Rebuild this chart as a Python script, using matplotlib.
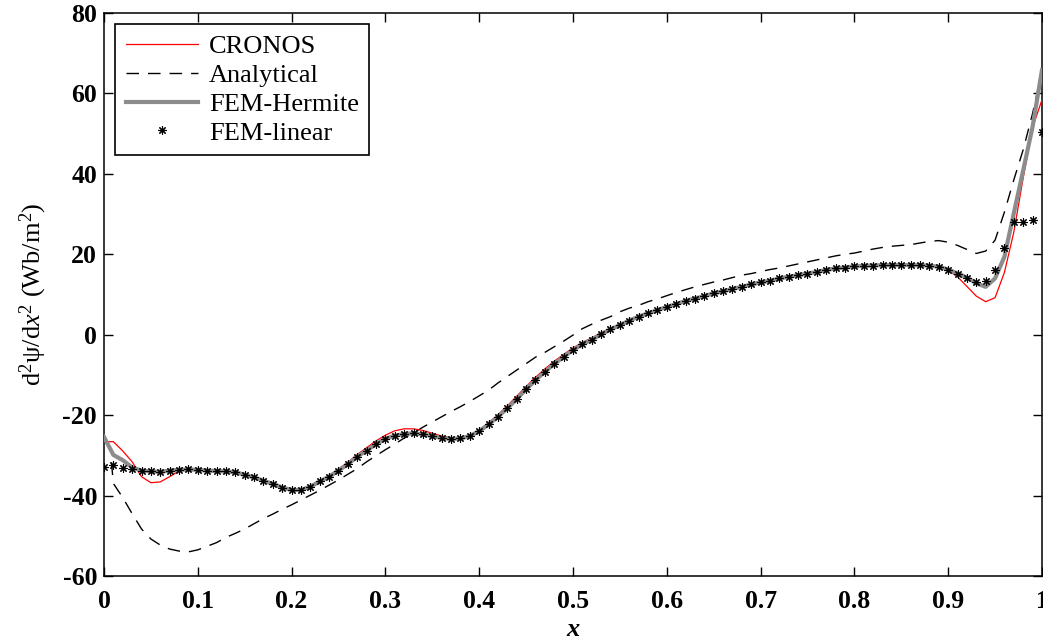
import numpy as np
import matplotlib.pyplot as plt

plt.rcParams['font.family'] = 'Liberation Serif'
plt.rcParams['mathtext.fontset'] = 'custom'
plt.rcParams['mathtext.rm'] = 'Liberation Serif'
plt.rcParams['mathtext.it'] = 'Liberation Serif:italic'
plt.rcParams['mathtext.bf'] = 'Liberation Serif:bold'
plt.rcParams['axes.unicode_minus'] = False

# FEM grid, step 0.01
x_fem = np.linspace(0, 1, 101)

fem_linear = [
    -32.9, -32.5, -33.1, -33.4, -33.8, -34.0, -34.1, -33.8, -33.6, -33.5,
    -33.6, -33.8, -33.9, -34.0, -34.2, -34.8, -35.5, -36.3, -37.1, -38.0,
    -38.5, -38.5, -37.8, -36.5, -35.3, -33.8, -32.2, -30.3, -28.8, -27.2,
    -25.9, -25.1, -24.7, -24.5, -24.8, -25.2, -25.7, -25.9, -25.8, -25.2,
    -24.0, -22.3, -20.4, -18.3, -16.0, -13.6, -11.3, -9.2, -7.3, -5.5,
    -3.8, -2.4, -1.2, 0.1, 1.3, 2.4, 3.5, 4.5, 5.3, 6.1,
    6.9, 7.6, 8.4, 9.0, 9.6, 10.3, 10.8, 11.4, 11.9, 12.5,
    13.0, 13.4, 14.0, 14.4, 14.8, 15.2, 15.6, 16.1, 16.5, 16.7,
    17.0, 17.15, 17.2, 17.3, 17.3, 17.3, 17.3, 17.3, 17.15, 16.9,
    16.2, 15.2, 14.2, 13.0, 13.3, 16.2, 21.5, 27.9, 28.1, 28.5,
    50.5,
]

fem_hermite = [
    -25.4, -29.9, -31.2, -33.0, -33.8, -34.0, -34.1, -33.8, -33.6, -33.5,
    -33.6, -33.8, -33.9, -34.0, -34.2, -34.8, -35.5, -36.3, -37.1, -38.0,
    -38.6, -38.6, -37.8, -36.5, -35.3, -33.8, -32.2, -30.3, -28.8, -27.2,
    -25.9, -25.1, -24.7, -24.5, -24.8, -25.2, -25.7, -25.9, -25.8, -25.2,
    -24.0, -22.3, -20.4, -18.3, -16.0, -13.6, -11.3, -9.2, -7.3, -5.5,
    -3.8, -2.4, -1.2, 0.1, 1.3, 2.4, 3.5, 4.5, 5.3, 6.1,
    6.9, 7.6, 8.4, 9.0, 9.6, 10.3, 10.8, 11.4, 11.9, 12.5,
    13.0, 13.4, 14.0, 14.4, 14.8, 15.2, 15.6, 16.1, 16.5, 16.7,
    17.0, 17.15, 17.2, 17.3, 17.3, 17.3, 17.3, 17.3, 17.15, 16.9,
    16.2, 15.2, 14.2, 12.8, 11.9, 14.0, 19.4, 30.2, 40.9, 51.7,
    65.8,
]

cronos = [
    -26.6, -26.6, -28.9, -31.6, -35.3, -36.8, -36.6, -35.3, -33.9, -33.4,
    -33.3, -33.6, -33.8, -34.0, -34.2, -34.8, -35.5, -36.3, -37.2, -38.3,
    -38.8, -38.8, -37.9, -36.4, -35.0, -33.4, -31.7, -29.8, -28.1, -26.4,
    -25.0, -23.9, -23.4, -23.4, -23.8, -24.5, -25.2, -25.6, -25.6, -25.0,
    -23.7, -21.9, -19.9, -17.7, -15.3, -12.9, -10.6, -8.5, -6.6, -4.9,
    -3.3, -1.9, -0.8, 0.5, 1.6, 2.6, 3.6, 4.6, 5.4, 6.2,
    6.9, 7.6, 8.4, 9.0, 9.6, 10.3, 10.8, 11.4, 11.9, 12.5,
    13.0, 13.4, 14.0, 14.4, 14.8, 15.2, 15.6, 16.1, 16.5, 16.7,
    17.0, 17.15, 17.2, 17.3, 17.3, 17.3, 17.3, 17.3, 17.15, 16.9,
    16.0, 14.4, 12.0, 9.6, 8.2, 9.2, 15.5, 25.5, 39.0, 51.5,
    58.4,
]

# analytical solution
x_an = [0.008] + [round(0.01 * k, 2) for k in range(1, 101)]
analytical = [
    -31.8,
    -37.0, -40.5, -44.5, -48.3, -50.8, -52.3, -53.3, -53.8, -54.0, -53.5,
    -52.6, -51.7, -50.4, -49.4, -48.3, -47.0, -45.7, -44.6, -43.4, -42.3,
    -41.1, -39.9, -38.7, -37.4, -36.1, -34.7, -33.3, -31.6, -30.1, -28.6,
    -27.2, -25.7, -24.4, -23.0, -21.7, -20.4, -19.1, -17.9, -16.6, -15.2,
    -13.8, -12.0, -10.4, -8.8, -7.2, -5.6, -4.4, -3.0, -1.6, -0.1,
    1.5, 2.6, 3.6, 4.5, 5.7, 6.6, 7.3, 8.2, 8.9, 9.7,
    10.5, 11.2, 11.9, 12.5, 13.1, 13.6, 14.2, 14.8, 15.2, 15.7,
    16.2, 16.6, 17.1, 17.6, 18.1, 18.6, 19.1, 19.6, 20.0, 20.3,
    20.8, 21.3, 21.7, 22.0, 22.2, 22.4, 22.8, 23.2, 23.4, 23.0,
    22.2, 21.2, 20.2, 20.8, 23.5, 30.5, 38.5, 46.0, 55.0, 65.5,
]

xticks = np.arange(0, 1.01, 0.1)
xtick_labels = ['0', '0.1', '0.2', '0.3', '0.4', '0.5', '0.6', '0.7', '0.8', '0.9', '1']
yticks = np.arange(-60, 81, 20)

fig = plt.figure(figsize=(10.43, 6.42), dpi=100)
ax = fig.add_axes([0.0997, 0.1028, 0.8993, 0.877])

ax.plot(x_fem, cronos, color='red', lw=0.9, label='CRONOS', zorder=3)
ax.plot(x_an, analytical, color='black', lw=1.0, dashes=(9, 6.5), label='Analytical', zorder=2)
ax.plot(x_fem, fem_hermite, color='#8c8c8c', lw=3.0, label='FEM-Hermite', zorder=4)
ax.plot(x_fem, fem_linear, ls='none', marker=(8, 2, 0), ms=6, mew=0.8,
        color='black', label='FEM-linear', zorder=5)

ax.set_xlim(0, 1)
ax.set_ylim(-60, 80)
ax.set_xticks(xticks)
ax.set_xticklabels(xtick_labels)
ax.set_yticks(yticks)
ax.tick_params(direction='in', length=6.5, width=1, top=True, right=True,
               labelsize=18.5)
ax.tick_params(axis='x', pad=10)
ax.tick_params(axis='y', pad=5)
for lbl in ax.get_xticklabels() + ax.get_yticklabels():
    lbl.set_fontweight('bold')
for s in ax.spines.values():
    s.set_linewidth(1.1)

ax.set_xlabel('x', fontsize=19, fontweight='bold', style='italic', labelpad=4)
ax.set_ylabel(r'$\mathrm{d}^2\mathrm{ψ}/\mathrm{d}x^2\ (\mathrm{Wb/m}^2)$', fontsize=19, labelpad=10)

leg = ax.legend(loc='upper left', bbox_to_anchor=(0.012, 0.98), fontsize=19,
                numpoints=1, handlelength=2.75, handletextpad=0.4,
                labelspacing=0.2, borderpad=0.4, borderaxespad=0.0,
                fancybox=False, framealpha=1, edgecolor='black')
leg.get_frame().set_linewidth(1.2)

fig.savefig('out.png', dpi=100)
